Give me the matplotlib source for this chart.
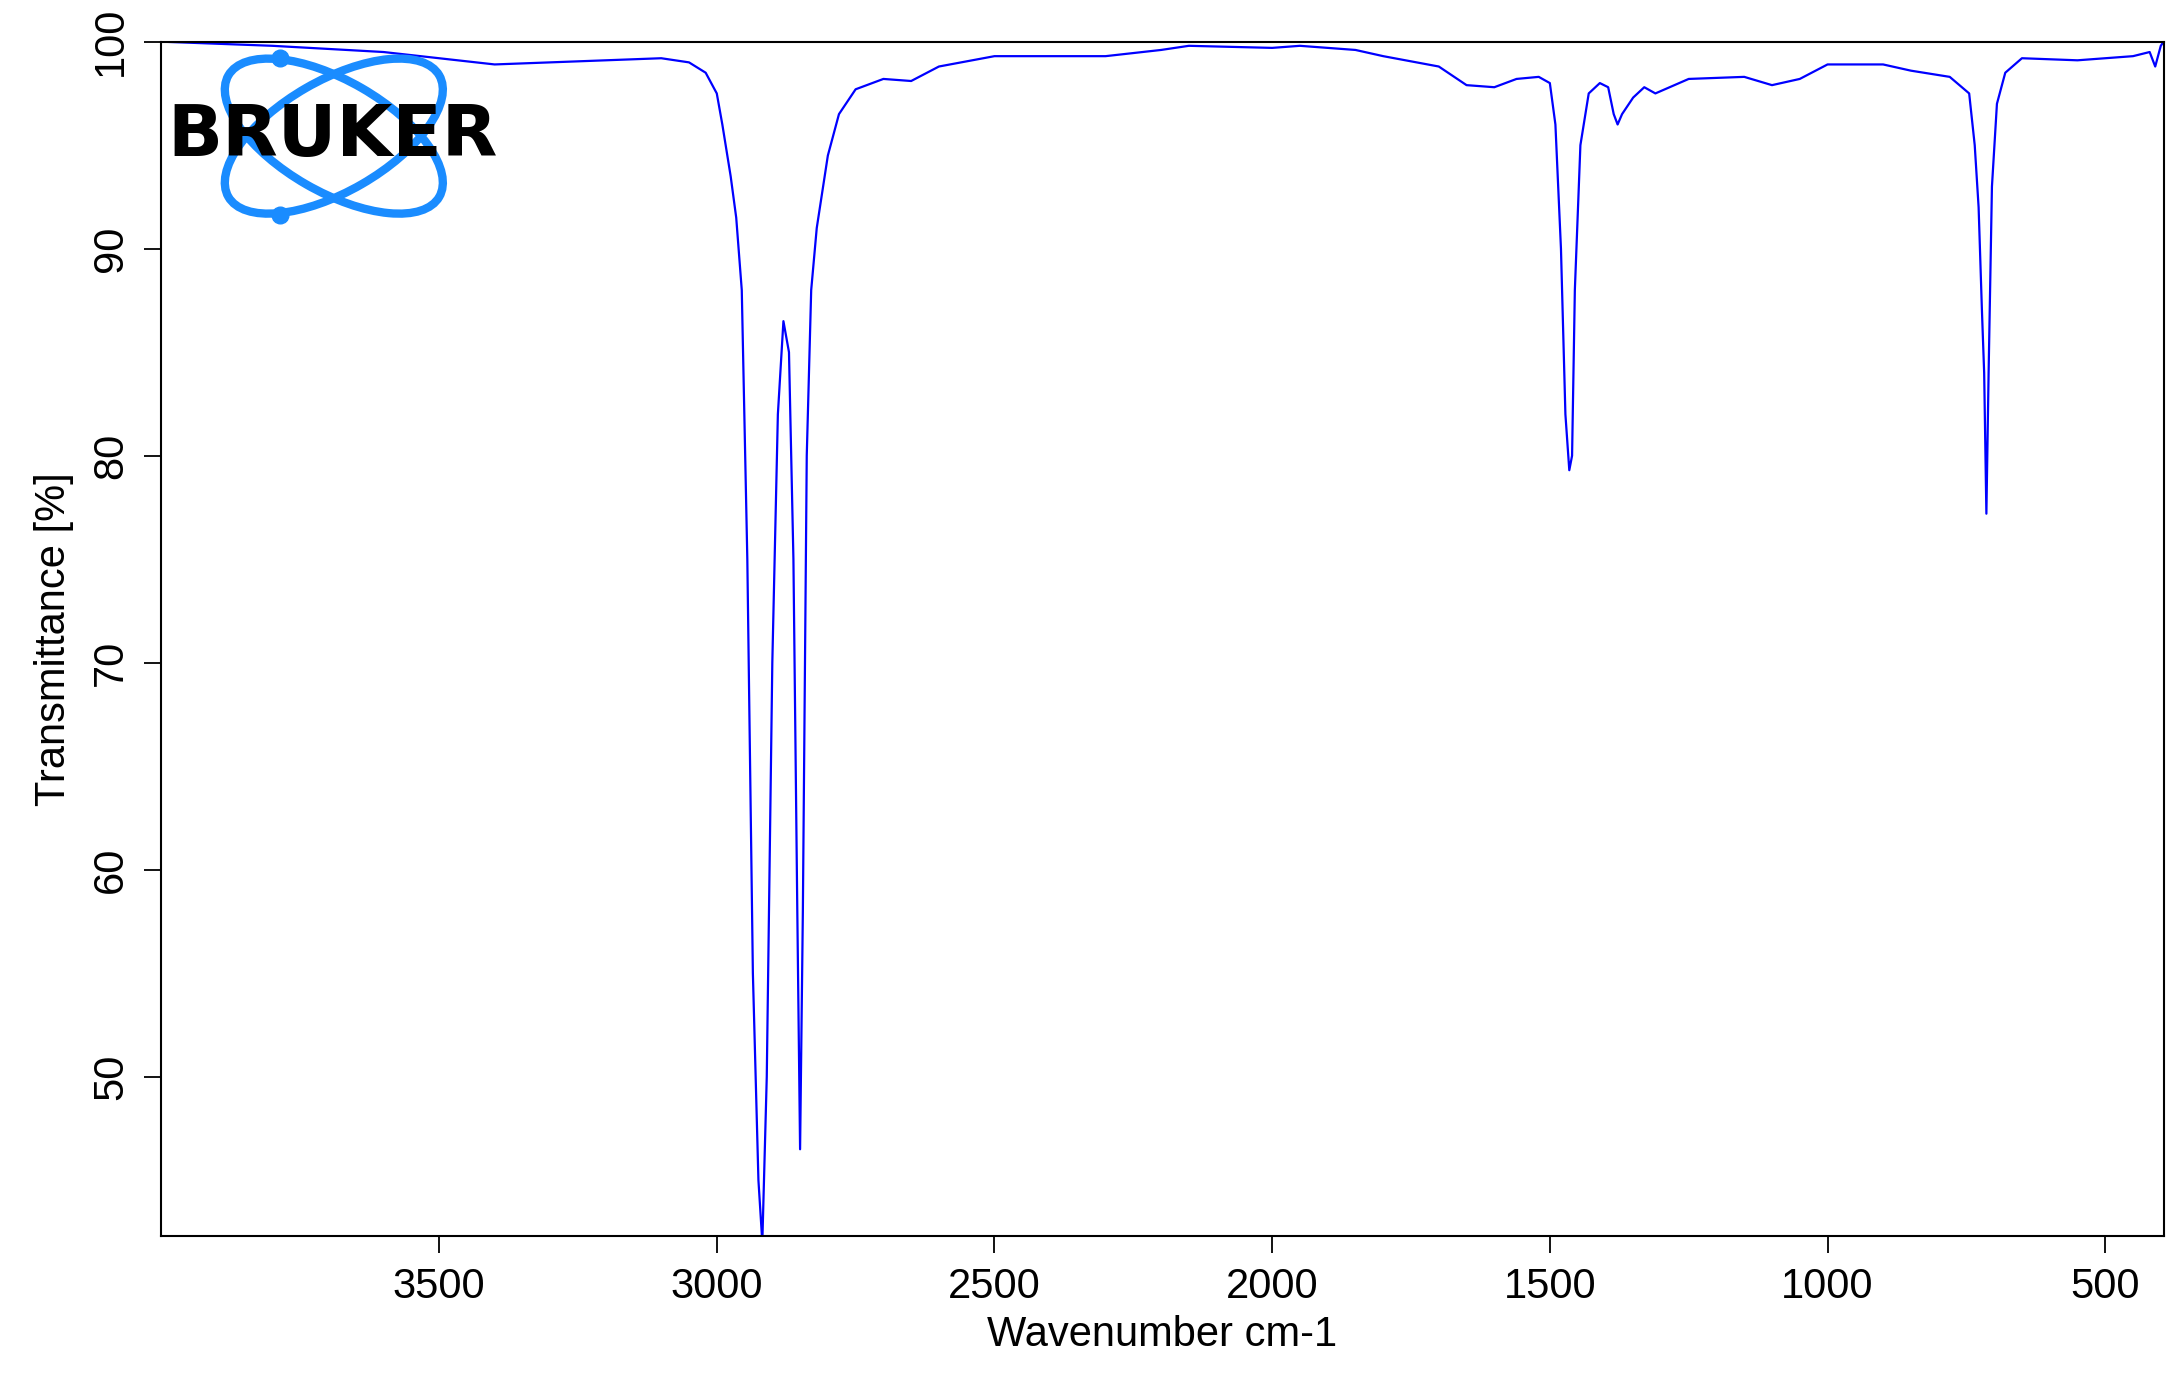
import matplotlib
matplotlib.use("Agg")
import matplotlib.pyplot as plt
from matplotlib.patches import Ellipse
import numpy as np

wavenumber = [4000,3800,3600,3500,3400,3300,3200,3100,3050,3020,3000,2990,2975,2965,2955,2945,2935,2925,2918,2910,2900,2890,2880,2870,2862,2855,2850,2845,2838,2830,2820,2800,2780,2750,2700,2650,2600,2500,2400,2300,2200,2150,2000,1950,1850,1800,1700,1650,1600,1560,1520,1500,1490,1480,1472,1465,1460,1455,1445,1430,1410,1395,1385,1378,1370,1350,1330,1310,1250,1150,1100,1050,1000,900,850,780,745,735,728,722,718,714,710,704,695,680,650,550,450,420,410,400,395]
transmittance = [100,99.8,99.5,99.2,98.9,99,99.1,99.2,99.0,98.5,97.5,96,93.5,91.5,88,75,55,45,42,50,70,82,86.5,85,75,58,46.5,58,80,88,91,94.5,96.5,97.7,98.2,98.1,98.8,99.3,99.3,99.3,99.6,99.8,99.7,99.8,99.6,99.3,98.8,97.9,97.8,98.2,98.3,98.0,96,90,82,79.3,80,88,95,97.5,98,97.8,96.5,96,96.5,97.3,97.8,97.5,98.2,98.3,97.9,98.2,98.9,98.9,98.6,98.3,97.5,95,92,87,84,77.2,84,93,97,98.5,99.2,99.1,99.3,99.5,98.8,99.8,100]

plt.rcParams['font.family'] = ['Liberation Sans', 'DejaVu Sans']
fig = plt.figure(figsize=(21.81, 13.89), dpi=100)
ax = fig.add_axes([0.074, 0.11, 0.918, 0.86])
ax.plot(wavenumber, transmittance, color='#0000ff', lw=1.6)
ax.set_xlim(4000, 395)
ax.set_ylim(42.3, 100)
ax.set_xticks([3500, 3000, 2500, 2000, 1500, 1000, 500])
ax.set_yticks([50, 60, 70, 80, 90, 100])
ax.tick_params(labelsize=30, length=12, width=1.3, pad=10)
for lab in ax.get_yticklabels():
    lab.set_rotation(90); lab.set_va('center')
for s in ax.spines.values():
    s.set_linewidth(1.5)
ax.set_xlabel('Wavenumber cm-1', fontsize=30, labelpad=6)
ax.set_ylabel('Transmittance [%]', fontsize=30, labelpad=12)

lax = fig.add_axes([0, 0, 1, 1], facecolor='none')
lax.set_xlim(0, 1568); lax.set_ylim(1000, 0); lax.axis('off')
blue = '#1a8cff'
for ang in (30, -30):
    lax.add_patch(Ellipse((240, 98), 175, 80, angle=ang, fill=False, ec=blue, lw=6))
lax.plot([201, 201], [42, 155], 'o', color=blue, ms=12)
lax.text(239, 98, 'BRUKER', fontsize=52, fontweight='heavy', ha='center', va='center',
         color='black', family='DejaVu Sans')
fig.savefig('out.png', dpi=100)
